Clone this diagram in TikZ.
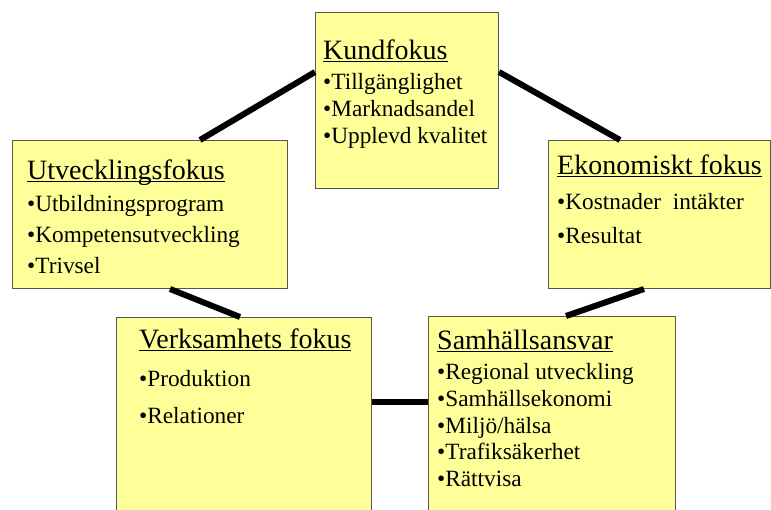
\documentclass[tikz,border=0pt]{standalone}
\usepackage{fontspec}
\setmainfont{Liberation Serif}
\definecolor{gul}{RGB}{255,255,153}
\definecolor{kant}{RGB}{85,85,85}
\newcommand\rubrik[1]{\underline{\smash{#1}}}

\begin{document}
\begin{tikzpicture}[x=1pt,y=-1pt,
   ruta/.style={draw=kant,line width=1pt,fill=gul,anchor=north west,inner sep=0pt},
   titel/.style={anchor=base west,inner sep=0pt,font=\fontsize{28}{32}\selectfont},
   punkt/.style={anchor=base west,inner sep=0pt,font=\fontsize{23.3}{27}\selectfont},
   band/.style={line width=6pt}]
   \useasboundingbox (0,0) rectangle (771,510);
   \clip (0,0) rectangle (771,510);
   % rutorna
   \node[ruta,minimum width=183,minimum height=176] (kund) at (315,12) {};
   \node[ruta,minimum width=275,minimum height=148] (utv) at (12,140) {};
   \node[ruta,minimum width=222,minimum height=148] (eko) at (548,140) {};
   \node[ruta,minimum width=255,minimum height=230] (verk) at (116,317) {};
   \node[ruta,minimum width=247,minimum height=230] (sam) at (428,316) {};
   % rubriker
   \node[titel] (kundT) at ([shift={(8,48)}]kund.north west) {\rubrik{Kundfokus}};
   \node[titel] (utvT) at ([shift={(15,40)}]utv.north west) {\rubrik{Utvecklingsfokus}};
   \node[titel] (ekoT) at ([shift={(9,35)}]eko.north west) {\rubrik{Ekonomiskt fokus}};
   \node[titel] (verkT) at ([shift={(23,32)}]verk.north west) {\rubrik{Verksamhets fokus}};
   \node[titel] (samT) at ([shift={(9,34)}]sam.north west) {\rubrik{Samhällsansvar}};
   % punkter
   \foreach \t [count=\i] in {Tillgänglighet,Marknadsandel,Upplevd kvalitet}
      \node[punkt] (kund\i) at ([shift={(0,3+26.7*\i)}]kundT.base west) {•\t};
   \foreach \t [count=\i] in {Utbildningsprogram,Kompetensutveckling,Trivsel}
      \node[punkt] (utv\i) at ([shift={(0,1+31*\i)}]utvT.base west) {•\t};
   \foreach \t [count=\i] in {Kostnader~ intäkter,Resultat}
      \node[punkt] (eko\i) at ([shift={(0,1+34*\i)}]ekoT.base west) {•\t};
   \foreach \t [count=\i] in {Produktion,Relationer}
      \node[punkt] (verk\i) at ([shift={(0,2+36*\i)}]verkT.base west) {•\t};
   \foreach \t [count=\i] in {Regional utveckling,Samhällsekonomi,Miljö/hälsa,Trafiksäkerhet,Rättvisa}
      \node[punkt] (sam\i) at ([shift={(0,3.5+26.5*\i)}]samT.base west) {•\t};
   % bandet mellan rutorna
   \draw[band] ([shift={(0,60)}]kund.north west) -- ([shift={(188,0)}]utv.north west);
   \draw[band] ([shift={(0,60)}]kund.north east) -- ([shift={(72,0)}]eko.north west);
   \draw[band] ([shift={(158,0)}]utv.south west) -- ([shift={(124,0)}]verk.north west);
   \draw[band] ([shift={(96,0)}]eko.south west) -- ([shift={(138,0)}]sam.north west);
   \draw[band] ([shift={(0,85)}]verk.north east) -- ([shift={(0,86)}]sam.north west);
\end{tikzpicture}
\end{document}
